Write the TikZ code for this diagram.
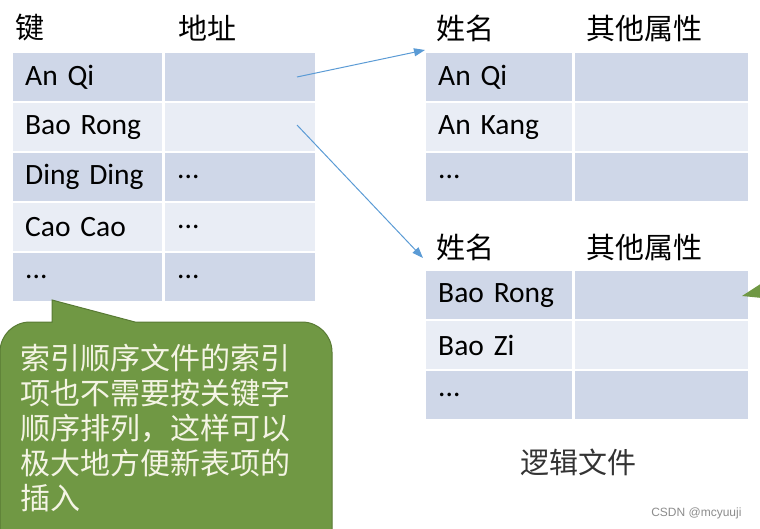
\documentclass[tikz,border=0pt]{standalone}
\usepackage{fontspec}
\setmainfont{Carlito}
\newfontfamily\cjk{Noto Sans CJK SC}
\newfontfamily\wmfont{Liberation Sans}
\usepackage{tikz}
\usetikzlibrary{arrows.meta,positioning}
\definecolor{rowdark}{RGB}{207,215,232}
\definecolor{rowlight}{RGB}{233,237,245}
\definecolor{linkblue}{RGB}{91,155,213}
\definecolor{notegreen}{RGB}{112,152,68}
\definecolor{noteedge}{RGB}{88,122,52}
\definecolor{notetext}{RGB}{244,244,228}
\newcommand\morerows{...}

\begin{document}
\begin{tikzpicture}[x=1pt,y=-1pt,
  cell/.style={anchor=north west,minimum height=48pt,inner ysep=0pt,inner xsep=12pt,
    align=left,font=\fontsize{29.5}{32}\selectfont},
  head/.style={anchor=west,inner sep=0pt,font=\cjk\fontsize{29}{32}\selectfont},
  link/.style={draw=linkblue,line width=1pt,-{Triangle[length=11pt,width=8pt]}}]
  % page = screenshot, 1pt per pixel, y grows downward
  \useasboundingbox (0,0) rectangle (760,529);
  \clip (0,0) rectangle (760,529);
  % index file: key | address, rows alternate dark / light
  \foreach \r/\k/\a/\c in {0/An Qi//rowdark,1/Bao Rong//rowlight,
      2/Ding Ding/\morerows/rowdark,3/Cao Cao/\morerows/rowlight,4/\morerows/\morerows/rowdark}{
    \node[cell,fill=\c,text width=125pt] (key\r) at (13,53+50*\r) {\k};
    \node[cell,fill=\c,text width=126pt] (addr\r) at (165,53+50*\r) {\a};}
  % logical file, block A
  \foreach \r/\n/\c in {0/An Qi/rowdark,1/An Kang/rowlight,2/\morerows/rowdark}{
    \node[cell,fill=\c,text width=122pt] (nameA\r) at (426,53+50*\r) {\n};
    \node[cell,fill=\c,text width=149pt] (attrA\r) at (575,53+50*\r) {};}
  % logical file, block B
  \foreach \r/\n/\c in {0/Bao Rong/rowdark,1/Bao Zi/rowlight,2/\morerows/rowdark}{
    \node[cell,fill=\c,text width=122pt] (nameB\r) at (426,271+50*\r) {\n};
    \node[cell,fill=\c,text width=149pt] (attrB\r) at (575,271+50*\r) {};}
  % column headers
  \node[head] (hkey) at (15,28) {键};
  \node[head] (haddr) at (178,28) {地址};
  \node[head] (hnameA) at (436,28) {姓名};
  \node[head] (hattrA) at (586,28) {其他属性};
  \node[head] (hnameB) at (436,247) {姓名};
  \node[head] (hattrB) at (586,247) {其他属性};
  % address pointers
  \coordinate (src0) at (297,77);
  \coordinate (dst0) at (425,50);
  \coordinate (src1) at (297,125);
  \coordinate (dst1) at (423,258);
  \draw[link] (src0) -- (dst0);
  \draw[link] (src1) -- (dst1);
  % callout bubble
  \filldraw[fill=notegreen,draw=noteedge,line width=1pt]
    (0,560) -- (0,352) .. controls (0,335.4) and (13.4,322) .. (30,322)
    -- (52,322) -- (52,300) -- (135,322) -- (302,322)
    .. controls (318.6,322) and (332,335.4) .. (332,352) -- (332,560) -- cycle;
  \node[anchor=north west,align=left,inner sep=0pt,text=notetext,
    font=\cjk\fontsize{30}{35}\selectfont] (note) at (20,344)
    {索引顺序文件的索引\\项也不需要按关键字\\顺序排列，这样可以\\极大地方便新表项的\\插入};
  % tip of a second bubble at the right edge
  \fill[notegreen] (742,296) -- (762,283) -- (762,298) -- cycle;
  \node[font=\cjk\fontsize{29}{32}\selectfont,text=black!80] (caption) at (578,462) {逻辑文件};
  \node[anchor=east,font=\wmfont\fontsize{12}{14}\selectfont,text=black!45] (mark) at (745,513) {CSDN @mcyuuji};
\end{tikzpicture}
\end{document}
